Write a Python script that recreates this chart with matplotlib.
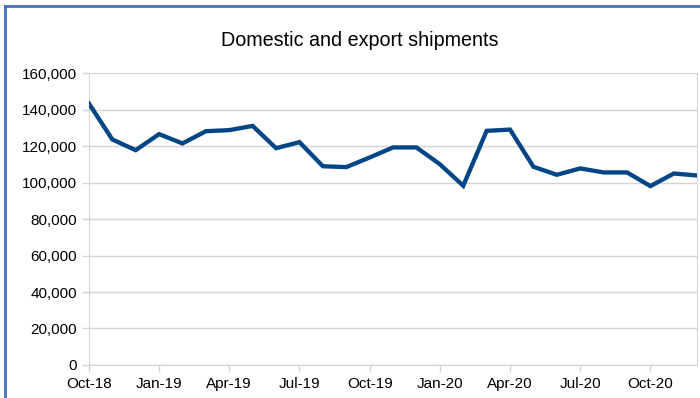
import matplotlib
matplotlib.use("Agg")
import matplotlib.pyplot as plt
from matplotlib.lines import Line2D
import numpy as np

plt.rcParams["font.family"] = ["Liberation Sans", "DejaVu Sans"]

months = ["Oct-18", "Nov-18", "Dec-18", "Jan-19", "Feb-19", "Mar-19", "Apr-19", "May-19",
          "Jun-19", "Jul-19", "Aug-19", "Sep-19", "Oct-19", "Nov-19", "Dec-19", "Jan-20",
          "Feb-20", "Mar-20", "Apr-20", "May-20", "Jun-20", "Jul-20", "Aug-20", "Sep-20",
          "Oct-20", "Nov-20", "Dec-20"]
shipments = [143400, 123700, 117800, 126600, 121500, 128200, 128800, 131100,
             118900, 122200, 109000, 108500, 113800, 119300, 119300, 110100,
             98300, 128400, 129100, 108700, 104300, 107800, 105600, 105600,
             98100, 105000, 103900]

GRID = "#d4d4d4"
LINE = "#004586"

fig = plt.figure(figsize=(7.0, 3.98), dpi=100)
ax = fig.add_axes([0.127, 0.083, 0.869, 0.733])

x = np.arange(len(months))
ax.plot(x, shipments, color=LINE, lw=3.1, solid_joinstyle="miter", zorder=3)

ax.set_xlim(0, len(months) - 1)
ax.set_ylim(0, 160000)
ax.set_yticks(np.arange(0, 160001, 20000))
ax.set_yticklabels([f"{v:,}" for v in range(0, 160001, 20000)])
ax.set_xticks(x[::3])
ax.set_xticklabels(months[::3])

ax.grid(axis="y", color=GRID, lw=1)
ax.set_axisbelow(True)
for s in ax.spines.values():
    s.set_color(GRID)
ax.spines["top"].set_visible(False)
ax.tick_params(axis="both", colors=GRID, labelcolor="black", labelsize=11, length=5, width=1)

fig.text(0.514, 0.897, "Domestic and export shipments", ha="center", va="center", fontsize=14.2)

# outer frame (left and top edges)
fig.add_artist(Line2D([5 / 700, 5 / 700], [0, 1 - 6 / 398], color="#4472c4", lw=2))
fig.add_artist(Line2D([5 / 700, 1], [1 - 6 / 398, 1 - 6 / 398], color="#4472c4", lw=2))

fig.savefig("out.png", dpi=100)
